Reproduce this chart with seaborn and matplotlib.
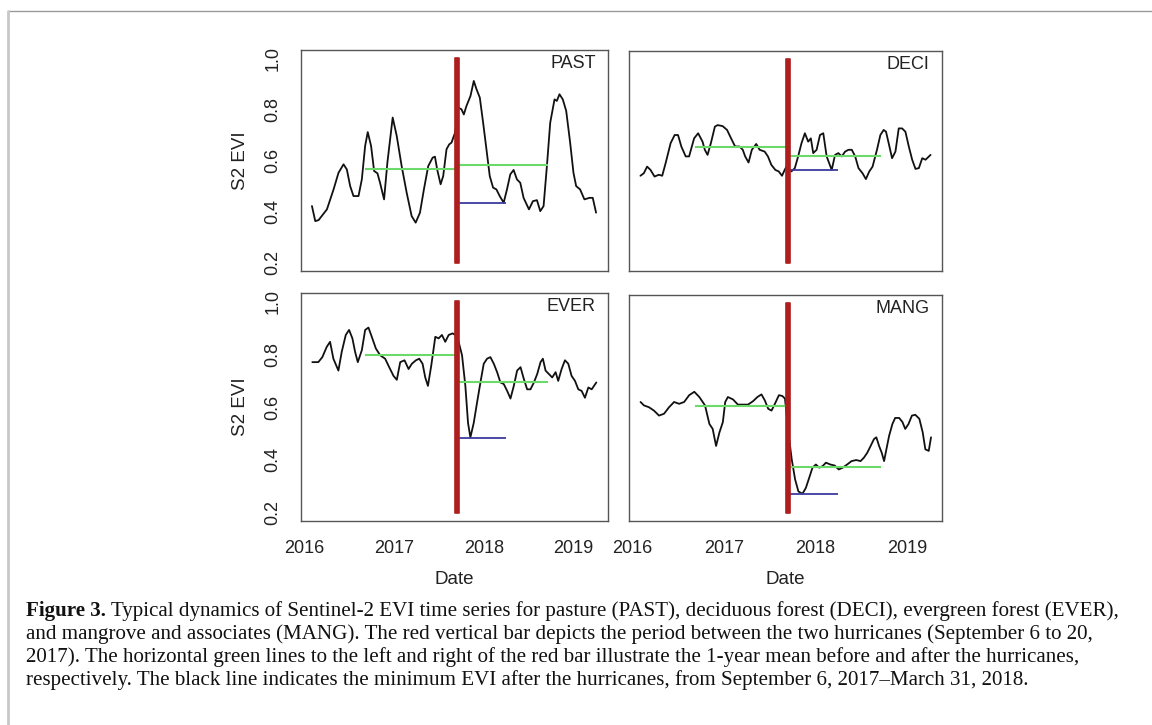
import numpy as np
import pandas as pd
import matplotlib
matplotlib.use("Agg")
import matplotlib.pyplot as plt
from matplotlib.lines import Line2D
import seaborn as sns

# ---------------- data ----------------
panels = ["PAST", "DECI", "EVER", "MANG"]
year_ticks = [2016, 2017, 2018, 2019]
evi_ticks = [0.2, 0.4, 0.6, 0.8, 1.0]

past_t = [2016.085, 2016.122, 2016.159, 2016.252, 2016.326, 2016.381, 2016.437, 2016.474, 2016.511, 2016.548,
          2016.604, 2016.641, 2016.678, 2016.707, 2016.744, 2016.778, 2016.815, 2016.844, 2016.889, 2016.926,
          2016.985, 2017.030, 2017.085, 2017.141, 2017.196, 2017.241, 2017.289, 2017.333, 2017.381, 2017.430,
          2017.456, 2017.481, 2017.519, 2017.548, 2017.585, 2017.615, 2017.641, 2017.667, 2017.681, 2017.715,
          2017.752, 2017.778, 2017.807, 2017.852, 2017.889, 2017.919, 2017.956, 2017.993, 2018.030, 2018.067,
          2018.104, 2018.141, 2018.178, 2018.222, 2018.259, 2018.296, 2018.333, 2018.370, 2018.407, 2018.444,
          2018.504, 2018.548, 2018.593, 2018.630, 2018.667, 2018.704, 2018.741, 2018.789, 2018.815, 2018.844,
          2018.881, 2018.919, 2018.963, 2019.000, 2019.030, 2019.074, 2019.122, 2019.178, 2019.215, 2019.252]
past_v = [0.422, 0.363, 0.367, 0.409, 0.487, 0.552, 0.585, 0.565, 0.500, 0.461,
          0.461, 0.526, 0.657, 0.711, 0.657, 0.559, 0.550, 0.513, 0.448, 0.592,
          0.768, 0.696, 0.578, 0.474, 0.383, 0.357, 0.396, 0.487, 0.578, 0.611,
          0.615, 0.565, 0.507, 0.539, 0.644, 0.663, 0.670, 0.696, 0.709, 0.807,
          0.800, 0.780, 0.813, 0.852, 0.911, 0.879, 0.846, 0.748, 0.644, 0.539,
          0.494, 0.487, 0.461, 0.435, 0.487, 0.546, 0.563, 0.526, 0.513, 0.454,
          0.409, 0.441, 0.445, 0.402, 0.422, 0.578, 0.748, 0.839, 0.833, 0.859,
          0.839, 0.794, 0.670, 0.552, 0.500, 0.487, 0.448, 0.454, 0.454, 0.396]

deci_t = [2016.088, 2016.125, 2016.161, 2016.198, 2016.242, 2016.290, 2016.326, 2016.363, 2016.418, 2016.462,
          2016.499, 2016.535, 2016.583, 2016.620, 2016.675, 2016.719, 2016.767, 2016.792, 2016.822, 2016.858,
          2016.902, 2016.932, 2016.987, 2017.035, 2017.079, 2017.123, 2017.171, 2017.207, 2017.233, 2017.270,
          2017.306, 2017.354, 2017.391, 2017.446, 2017.482, 2017.519, 2017.563, 2017.600, 2017.636, 2017.665,
          2017.684, 2017.739, 2017.776, 2017.812, 2017.849, 2017.886, 2017.922, 2017.951, 2017.977, 2018.014,
          2018.051, 2018.087, 2018.124, 2018.179, 2018.216, 2018.252, 2018.289, 2018.326, 2018.362, 2018.399,
          2018.436, 2018.472, 2018.516, 2018.553, 2018.590, 2018.626, 2018.674, 2018.711, 2018.747, 2018.773,
          2018.802, 2018.839, 2018.876, 2018.912, 2018.949, 2018.985, 2019.022, 2019.059, 2019.095, 2019.132,
          2019.169, 2019.205, 2019.260]
deci_v = [0.542, 0.552, 0.578, 0.565, 0.539, 0.546, 0.542, 0.591, 0.670, 0.702,
          0.702, 0.657, 0.618, 0.618, 0.689, 0.709, 0.676, 0.644, 0.624, 0.670,
          0.735, 0.741, 0.737, 0.722, 0.689, 0.657, 0.657, 0.644, 0.618, 0.594,
          0.644, 0.667, 0.644, 0.637, 0.618, 0.585, 0.565, 0.559, 0.542, 0.565,
          0.578, 0.559, 0.572, 0.618, 0.670, 0.709, 0.676, 0.689, 0.631, 0.644,
          0.702, 0.709, 0.618, 0.565, 0.624, 0.631, 0.618, 0.637, 0.644, 0.644,
          0.618, 0.572, 0.552, 0.529, 0.559, 0.578, 0.644, 0.702, 0.722, 0.715,
          0.670, 0.611, 0.637, 0.728, 0.728, 0.715, 0.657, 0.605, 0.569, 0.572,
          0.611, 0.605, 0.624]

ever_t = [2016.089, 2016.156, 2016.201, 2016.250, 2016.287, 2016.324, 2016.380, 2016.417, 2016.462, 2016.499,
          2016.536, 2016.566, 2016.596, 2016.641, 2016.678, 2016.715, 2016.752, 2016.797, 2016.845, 2016.901,
          2016.946, 2016.994, 2017.031, 2017.069, 2017.117, 2017.162, 2017.199, 2017.244, 2017.281, 2017.318,
          2017.348, 2017.378, 2017.415, 2017.460, 2017.497, 2017.534, 2017.571, 2017.609, 2017.654, 2017.683,
          2017.720, 2017.758, 2017.795, 2017.825, 2017.851, 2017.888, 2017.925, 2017.963, 2018.000, 2018.037,
          2018.074, 2018.112, 2018.149, 2018.186, 2018.223, 2018.261, 2018.298, 2018.335, 2018.372, 2018.410,
          2018.447, 2018.484, 2018.521, 2018.559, 2018.596, 2018.633, 2018.659, 2018.689, 2018.726, 2018.763,
          2018.801, 2018.830, 2018.868, 2018.905, 2018.942, 2018.979, 2019.017, 2019.054, 2019.091, 2019.128,
          2019.166, 2019.203, 2019.255]
ever_v = [0.770, 0.770, 0.789, 0.828, 0.847, 0.783, 0.738, 0.809, 0.873, 0.892,
          0.860, 0.809, 0.770, 0.815, 0.892, 0.901, 0.866, 0.822, 0.796, 0.783,
          0.751, 0.718, 0.703, 0.770, 0.777, 0.744, 0.764, 0.777, 0.783, 0.764,
          0.712, 0.680, 0.757, 0.866, 0.860, 0.873, 0.847, 0.873, 0.879, 0.873,
          0.847, 0.796, 0.680, 0.539, 0.485, 0.539, 0.616, 0.693, 0.764, 0.783,
          0.789, 0.764, 0.732, 0.693, 0.687, 0.661, 0.632, 0.680, 0.738, 0.751,
          0.706, 0.667, 0.667, 0.693, 0.725, 0.770, 0.783, 0.738, 0.725, 0.712,
          0.732, 0.699, 0.744, 0.777, 0.764, 0.718, 0.699, 0.667, 0.661, 0.635,
          0.674, 0.667, 0.693]

mang_t = [2016.089, 2016.126, 2016.181, 2016.236, 2016.291, 2016.346, 2016.401, 2016.456, 2016.511, 2016.566,
          2016.621, 2016.677, 2016.732, 2016.794, 2016.842, 2016.878, 2016.915, 2016.952, 2016.989, 2017.015,
          2017.044, 2017.099, 2017.154, 2017.209, 2017.264, 2017.319, 2017.367, 2017.411, 2017.448, 2017.485,
          2017.521, 2017.558, 2017.602, 2017.639, 2017.668, 2017.712, 2017.742, 2017.779, 2017.815, 2017.859,
          2017.896, 2017.933, 2017.969, 2018.006, 2018.043, 2018.080, 2018.116, 2018.164, 2018.212, 2018.256,
          2018.300, 2018.348, 2018.396, 2018.447, 2018.495, 2018.531, 2018.568, 2018.605, 2018.641, 2018.667,
          2018.697, 2018.726, 2018.752, 2018.777, 2018.807, 2018.843, 2018.873, 2018.917, 2018.953, 2018.983,
          2019.019, 2019.056, 2019.093, 2019.137, 2019.174, 2019.203, 2019.240, 2019.265]
mang_v = [0.623, 0.610, 0.603, 0.590, 0.571, 0.578, 0.603, 0.623, 0.616, 0.623,
          0.649, 0.662, 0.642, 0.610, 0.539, 0.520, 0.455, 0.507, 0.546, 0.623,
          0.642, 0.633, 0.613, 0.613, 0.613, 0.626, 0.642, 0.652, 0.629, 0.597,
          0.590, 0.616, 0.649, 0.646, 0.636, 0.488, 0.404, 0.327, 0.281, 0.272,
          0.294, 0.333, 0.372, 0.384, 0.372, 0.378, 0.391, 0.384, 0.380, 0.365,
          0.372, 0.384, 0.397, 0.401, 0.397, 0.410, 0.429, 0.455, 0.481, 0.488,
          0.455, 0.429, 0.397, 0.442, 0.494, 0.539, 0.562, 0.562, 0.546, 0.520,
          0.539, 0.571, 0.574, 0.559, 0.507, 0.442, 0.436, 0.488]

mean_before = [0.565, 0.654, 0.798, 0.607]
mean_after = [0.581, 0.620, 0.693, 0.375]
min_after = [0.435, 0.563, 0.481, 0.272]

hurricane_start = 2017.680   # Sept 6, 2017
hurricane_end = 2017.720     # Sept 20, 2017
before_start = 2016.680
after_end = 2018.720
min_end = 2018.247           # March 31, 2018

series_t = [past_t, deci_t, ever_t, mang_t]
series_v = [past_v, deci_v, ever_v, mang_v]

df = pd.concat([pd.DataFrame({"panel": p, "date": t, "evi": v})
                for p, t, v in zip(panels, series_t, series_v)], ignore_index=True)

# ---------------- style ----------------
sns.set_style("white")
plt.rcParams["font.family"] = ["Liberation Sans", "DejaVu Sans"]

W, H = 1152, 725
fig = plt.figure(figsize=(W / 100, H / 100), dpi=100)

def frac(x0, y0, x1, y1):
    return [x0 / W, 1 - y1 / H, (x1 - x0) / W, (y1 - y0) / H]

boxes = [frac(301, 50, 608, 271), frac(629, 51, 942, 271),
         frac(301, 293, 608, 521), frac(629, 295, 942, 521)]

red = "#AE1E1E"
green = "#6BDA6B"
blue = "#3C3CA0"
axcol = "#555555"

for i, p in enumerate(panels):
    ax = fig.add_axes(boxes[i])
    d = df[df.panel == p]
    sns.lineplot(data=d, x="date", y="evi", ax=ax, color="#111111", lw=1.3,
                 estimator=None, sort=False, zorder=3)
    # red bar: period between the hurricanes
    ax.fill_betweenx([0.2, 1.0], hurricane_start, hurricane_end, color=red,
                     lw=1.2, edgecolor=red, zorder=5)
    # 1-year means before / after
    ax.hlines(mean_before[i], before_start, hurricane_start, color=green, lw=1.5, zorder=4)
    ax.hlines(mean_after[i], hurricane_end, after_end, color=green, lw=1.5, zorder=4)
    # minimum after hurricanes
    ax.hlines(min_after[i], hurricane_start, min_end, color=blue, lw=1.3, zorder=4)

    ax.set_xlim(2015.963, 2019.385)
    ax.set_ylim(0.168, 1.032)
    ax.set_xticks(year_ticks)
    ax.set_yticks(evi_ticks)
    ax.tick_params(direction="out", length=5, width=0.9, color=axcol,
                   labelsize=13, labelcolor="#222222", pad=9)
    for s in ax.spines.values():
        s.set_color(axcol)
        s.set_linewidth(1.0)
        s.set_visible(True)
    if i in (0, 2):
        ax.set_yticklabels([f"{v:.1f}" for v in evi_ticks], rotation=90, va="center")
        ax.set_ylabel("S2 EVI", fontsize=13.5, color="#222222", labelpad=11)
    else:
        ax.set_yticklabels([])
        ax.set_ylabel("")
    if i in (2, 3):
        ax.set_xticklabels([str(y) for y in year_ticks])
        ax.set_xlabel("Date", fontsize=13.5, color="#222222", labelpad=10)
    else:
        ax.set_xticklabels([])
        ax.set_xlabel("")
    ax.text(0.96, 0.94, p, transform=ax.transAxes, ha="right", va="center",
            fontsize=13, color="#222222")

# ---------------- frame ----------------
fig.add_artist(Line2D([8 / W, 1.0], [1 - 11 / H, 1 - 11 / H], color="#9a9a9a", lw=1.0))
fig.add_artist(Line2D([8 / W, 8 / W], [0.0, 1 - 11 / H], color="#c8c8c8", lw=2.0))

# ---------------- caption ----------------
serif = ["Liberation Serif", "DejaVu Serif"]
cap_fs = 15.1
lines = [
    " Typical dynamics of Sentinel-2 EVI time series for pasture (PAST), deciduous forest (DECI), evergreen forest (EVER),",
    "and mangrove and associates (MANG). The red vertical bar depicts the period between the two hurricanes (September 6 to 20,",
    "2017). The horizontal green lines to the left and right of the red bar illustrate the 1-year mean before and after the hurricanes,",
    "respectively. The black line indicates the minimum EVI after the hurricanes, from September 6, 2017\u2013March 31, 2018.",
]
x0 = 26 / W
y_lines = [616, 639, 662, 685]
t1 = fig.text(x0, 1 - y_lines[0] / H, "Figure 3.", family=serif, fontweight="bold",
              fontsize=cap_fs, va="baseline", ha="left", color="#111111")
plt.annotate(lines[0], xy=(1, 0), xycoords=t1, va="bottom", ha="left",
             family=serif, fontsize=cap_fs, color="#111111", annotation_clip=False)
for ln, yy in zip(lines[1:], y_lines[1:]):
    fig.text(x0, 1 - yy / H, ln, family=serif, fontsize=cap_fs, va="baseline",
             ha="left", color="#111111")

fig.savefig("out.png", dpi=100)
